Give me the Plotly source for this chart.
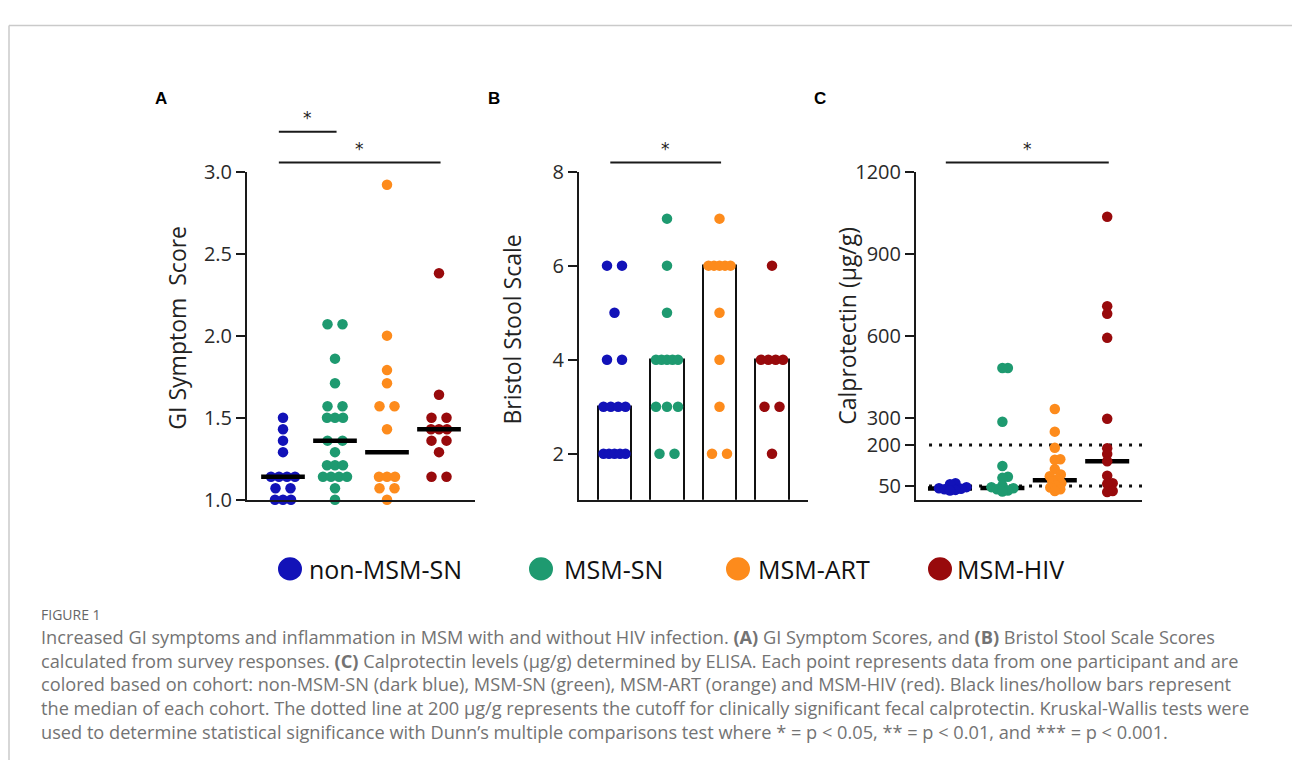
import numpy as np
import plotly.graph_objects as go

W, H = 1292, 773

# ---------------- data ----------------
groups = ["non-MSM-SN", "MSM-SN", "MSM-ART", "MSM-HIV"]
colors = ["#1212b8", "#1e9a70", "#fd8b1c", "#980a0c"]

gi_non_msm_sn = [1.5, 1.43, 1.36, 1.29, 1.14, 1.14, 1.14, 1.14, 1.07, 1.07, 1.0, 1.0, 1.0]
gi_msm_sn = [2.07, 2.07, 1.86, 1.71, 1.57, 1.57, 1.5, 1.5, 1.5, 1.36, 1.36, 1.29,
             1.21, 1.21, 1.21, 1.14, 1.14, 1.14, 1.14, 1.07, 1.0]
gi_msm_art = [2.92, 2.0, 1.79, 1.71, 1.57, 1.57, 1.43, 1.14, 1.14, 1.14, 1.07, 1.07, 1.0]
gi_msm_hiv = [2.38, 1.64, 1.5, 1.5, 1.43, 1.43, 1.43, 1.36, 1.36, 1.29, 1.14, 1.14]
gi_medians = [1.14, 1.36, 1.29, 1.43]

bss_non_msm_sn = [6, 6, 5, 4, 4, 3, 3, 3, 3, 2, 2, 2, 2, 2]
bss_msm_sn = [7, 6, 5, 4, 4, 4, 4, 4, 3, 3, 3, 2, 2]
bss_msm_art = [7, 6, 6, 6, 6, 6, 5, 4, 3, 2, 2]
bss_msm_hiv = [6, 4, 4, 4, 4, 3, 3, 2]
bss_medians = [3, 4, 6, 4]

cal_non_msm_sn = [60, 57, 46, 42, 40, 38, 36, 34]
cal_msm_sn = [482, 482, 285, 123, 84, 80, 52, 46, 42, 38, 34, 30]
cal_msm_art = [332, 249, 190, 148, 146, 112, 92, 86, 75, 68, 60, 52, 45, 38, 32]
cal_msm_hiv = [1035, 708, 680, 592, 296, 188, 167, 141, 88, 60, 58, 32, 28]
cal_medians = [41, 43, 71, 141]
cal_cutoffs = [200, 50]

gi_ticks = [1.0, 1.5, 2.0, 2.5, 3.0]
bss_ticks = [2, 4, 6, 8]
cal_ticks = [50, 200, 300, 600, 900, 1200]

sig_A = [(0, 1), (0, 3)]
sig_B = [(0, 2)]
sig_C = [(0, 3)]

gi_data = [gi_non_msm_sn, gi_msm_sn, gi_msm_art, gi_msm_hiv]
bss_data = [bss_non_msm_sn, bss_msm_sn, bss_msm_art, bss_msm_hiv]
cal_data = [cal_non_msm_sn, cal_msm_sn, cal_msm_art, cal_msm_hiv]

# ---------------- layout geometry (pixels) ----------------
AX_BOTTOM, AX_TOP = 503.3, 163.3
panels = {
    "A": dict(x0=247, x1=475, c0=283, step=52.0, yr=[1.0, 3.0]),
    "B": dict(x0=579, x1=808, c0=614.5, step=52.5, yr=[1.023, 8.0]),
    "C": dict(x0=916, x1=1142, c0=950, step=52.4, yr=[0.0, 1200.0]),
}
for p in panels.values():
    p["xr"] = [(p["x0"] - p["c0"]) / p["step"], (p["x1"] - p["c0"]) / p["step"]]
    p["ypx"] = (AX_BOTTOM - AX_TOP) / (p["yr"][1] - p["yr"][0])


def px(x):
    return x / W


def py(y):
    return 1 - y / H


def row_offsets(vals, spacing_fn):
    out = np.zeros(len(vals))
    rows = {}
    for i, v in enumerate(vals):
        rows.setdefault(round(v, 4), []).append(i)
    for idxs in rows.values():
        k = len(idxs)
        s = spacing_fn(k)
        for j, i in enumerate(idxs):
            out[i] = (j - (k - 1) / 2) * s
    return out


def swarm_offsets(vals, ypx, dmin):
    vals = np.asarray(vals, float)
    order = np.argsort(vals)
    placed = []
    out = np.zeros(len(vals))
    for i in order:
        y = vals[i] * ypx
        best = None
        for step in range(0, 400):
            cands = [0.0] if step == 0 else [step * 0.5, -step * 0.5]
            for c in cands:
                if all((c - a) ** 2 + (y - b) ** 2 >= dmin ** 2 for a, b in placed):
                    best = c
                    break
            if best is not None:
                break
        placed.append((best, y))
        out[i] = best
    return out


fig = go.Figure()
MS = 10.5

# ---- Panel A ----
pA = panels["A"]
for g, vals in enumerate(gi_data):
    off = row_offsets(vals, lambda k: 15 if k == 2 else 8)
    fig.add_trace(go.Scatter(x=g + off / pA["step"], y=vals, mode="markers",
                             marker=dict(size=MS, color=colors[g], line=dict(width=0)),
                             cliponaxis=False, showlegend=False, xaxis="x", yaxis="y"))
for g, m in enumerate(gi_medians):
    fig.add_trace(go.Scatter(x=[g - 0.42, g + 0.42], y=[m, m], mode="lines",
                             line=dict(color="#000", width=4.5), showlegend=False,
                             cliponaxis=False, xaxis="x", yaxis="y"))

# ---- Panel B ----
pB = panels["B"]
fig.add_trace(go.Bar(x=list(range(4)), y=bss_medians, width=0.63,
                     marker=dict(color="rgba(255,255,255,0)", line=dict(color="#111", width=2)),
                     showlegend=False, xaxis="x2", yaxis="y2"))
for g, vals in enumerate(bss_data):
    off = row_offsets(vals, lambda k: 15 if k == 2 else min(11, 22 / max(k - 1, 1)))
    fig.add_trace(go.Scatter(x=g + off / pB["step"], y=vals, mode="markers",
                             marker=dict(size=MS, color=colors[g], line=dict(width=0)),
                             cliponaxis=False, showlegend=False, xaxis="x2", yaxis="y2"))

# ---- Panel C ----
pC = panels["C"]
for c in cal_cutoffs:
    fig.add_trace(go.Scatter(x=[-0.4, pC["xr"][1]], y=[c, c], mode="lines",
                             line=dict(color="#111", width=3, dash="3px,7px"),
                             showlegend=False, xaxis="x3", yaxis="y3"))
for g, m in enumerate(cal_medians):
    fig.add_trace(go.Scatter(x=[g - 0.42, g + 0.42], y=[m, m], mode="lines",
                             line=dict(color="#000", width=4.5), showlegend=False,
                             cliponaxis=False, xaxis="x3", yaxis="y3"))
for g, vals in enumerate(cal_data):
    off = swarm_offsets(vals, pC["ypx"], 5.5)
    fig.add_trace(go.Scatter(x=g + off / pC["step"], y=vals, mode="markers",
                             marker=dict(size=MS, color=colors[g], line=dict(width=0)),
                             cliponaxis=False, showlegend=False, xaxis="x3", yaxis="y3"))

# ---------------- axes ----------------
tickfont = dict(family="Open Sans", size=20, color="#2a2a2a")
common_y = dict(showline=True, linecolor="#1a1a1a", linewidth=2, ticks="outside",
                ticklen=9, tickwidth=2, tickcolor="#1a1a1a", showgrid=False,
                zeroline=False, tickfont=tickfont, fixedrange=True)
common_x = dict(showline=True, linecolor="#1a1a1a", linewidth=2, ticks="",
                showticklabels=False, showgrid=False, zeroline=False, fixedrange=True)
ydom = [py(AX_BOTTOM), py(AX_TOP)]

layout_axes = {}
for i, key in enumerate(["A", "B", "C"]):
    p = panels[key]
    sfx = "" if i == 0 else str(i + 1)
    layout_axes["xaxis" + sfx] = dict(common_x, domain=[px(p["x0"]), px(p["x1"])],
                                      range=p["xr"], anchor="y" + sfx)
    layout_axes["yaxis" + sfx] = dict(common_y, domain=ydom, range=p["yr"],
                                      anchor="x" + sfx)
layout_axes["yaxis"].update(tickvals=gi_ticks, ticktext=["%.1f" % t for t in gi_ticks])
layout_axes["yaxis2"].update(tickvals=bss_ticks, ticktext=[str(t) for t in bss_ticks])
layout_axes["yaxis3"].update(tickvals=cal_ticks, ticktext=[str(t) for t in cal_ticks])

annotations = []
shapes = []

ytitles = [("GI Symptom  Score", 177, 325), ("Bristol Stool Scale", 512, 327),
           ("Calprotectin (µg/g)", 847, 323)]
for t, x, y in ytitles:
    annotations.append(dict(text=t, x=px(x), y=py(y), xref="paper", yref="paper",
                            textangle=-90, showarrow=False, xanchor="center", yanchor="middle",
                            font=dict(family="Open Sans", size=23, color="#222")))

for t, x in [("A", 161), ("B", 494), ("C", 820)]:
    annotations.append(dict(text="<b>%s</b>" % t, x=px(x), y=py(88), xref="paper", yref="paper",
                            showarrow=False, xanchor="center", yanchor="middle",
                            font=dict(family="Liberation Sans", size=17, color="#000")))

sig_levels = [[122, 154], [154], [154]]
for (sig, ax, levels) in [(sig_A, "x", sig_levels[0]), (sig_B, "x2", sig_levels[1]),
                          (sig_C, "x3", sig_levels[2])]:
    for (i, j), yb in zip(sig, levels):
        x0, x1 = i - 0.08, j + 0.03
        shapes.append(dict(type="line", xref=ax, yref="paper", x0=x0, x1=x1,
                           y0=py(yb), y1=py(yb), line=dict(color="#1a1a1a", width=2)))
        annotations.append(dict(text="*", x=(x0 + x1) / 2, y=py(yb - 14), xref=ax, yref="paper",
                                showarrow=False, xanchor="center", yanchor="middle",
                                font=dict(family="DejaVu Sans", size=17, color="#222")))

leg_circle_x = [290, 541, 738, 940]
leg_text_x = [307, 562, 756, 955]
LEG_Y = 575
for g, name in enumerate(groups):
    cx = leg_circle_x[g]
    shapes.append(dict(type="circle", xref="paper", yref="paper",
                       x0=px(cx - 12), x1=px(cx + 12), y0=py(LEG_Y + 12), y1=py(LEG_Y - 12),
                       fillcolor=colors[g], line=dict(width=0)))
    annotations.append(dict(text=name, x=px(leg_text_x[g]), y=py(LEG_Y), xref="paper", yref="paper",
                            showarrow=False, xanchor="left", yanchor="middle",
                            font=dict(family="Open Sans", size=25, color="#111")))

cap_color = "#737373"
annotations.append(dict(text="FIGURE 1", x=px(39), y=py(622), xref="paper", yref="paper",
                        showarrow=False, xanchor="left", yanchor="middle",
                        font=dict(family="Open Sans", size=14, color="#666")))
cap_lines = [
    "Increased GI symptoms and inflammation in MSM with and without HIV infection. <b>(A)</b> GI Symptom Scores, and <b>(B)</b> Bristol Stool Scale Scores",
    "calculated from survey responses. <b>(C)</b> Calprotectin levels (µg/g) determined by ELISA. Each point represents data from one participant and are",
    "colored based on cohort: non-MSM-SN (dark blue), MSM-SN (green), MSM-ART (orange) and MSM-HIV (red). Black lines/hollow bars represent",
    "the median of each cohort. The dotted line at 200 µg/g represents the cutoff for clinically significant fecal calprotectin. Kruskal-Wallis tests were",
    "used to determine statistical significance with Dunn’s multiple comparisons test where * = p &lt; 0.05, ** = p &lt; 0.01, and *** = p &lt; 0.001.",
]
CAP_SIZE = 18.2
cap_mid = 647 + (len(cap_lines) - 1) / 2 * 1.3 * CAP_SIZE
annotations.append(dict(text="<br>".join(cap_lines), x=px(39), y=py(cap_mid), xref="paper", yref="paper",
                        showarrow=False, xanchor="left", yanchor="middle", align="left",
                        font=dict(family="Open Sans", size=CAP_SIZE, color=cap_color)))

shapes.append(dict(type="line", xref="paper", yref="paper", x0=px(9), x1=1.0, y0=py(12), y1=py(12),
                   line=dict(color="#cacaca", width=1.5)))
shapes.append(dict(type="line", xref="paper", yref="paper", x0=px(9), x1=px(9), y0=py(12), y1=0,
                   line=dict(color="#cacaca", width=1.5)))

fig.update_layout(width=W, height=H, margin=dict(l=0, r=0, t=0, b=0),
                  paper_bgcolor="white", plot_bgcolor="white",
                  annotations=annotations, shapes=shapes, bargap=0, **layout_axes)

fig.write_html("out.html")
